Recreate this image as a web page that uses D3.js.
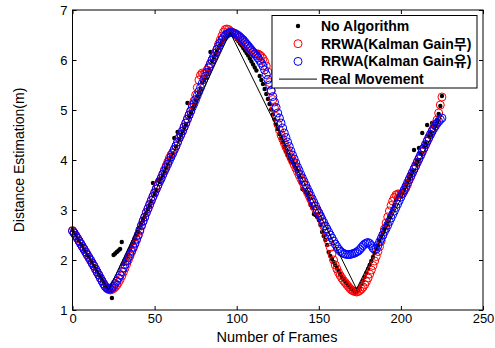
<!DOCTYPE html>
<html>
<head>
<meta charset="utf-8">
<script src="https://cdn.jsdelivr.net/npm/d3@7"></script>
<style>
  body { margin: 0; background: #fff; }
  svg text { font-family: "Liberation Sans", Arial, "Noto Sans CJK KR", sans-serif; fill: #000; }
</style>
</head>
<body>
<svg id="chart"></svg>
<script>
// ########## Data ##########

// one value per frame, frame 0..225
noAlgorithm = [
  2.60, 2.54, 2.50, 2.43, 2.39, 2.32, 2.28, 2.21, 2.17, 2.10,
  2.06, 1.99, 1.95, 1.88, 1.83, 1.77, 1.71, 1.66, 1.60, 1.54,
  1.49, 1.44, 1.40, 1.38, 1.24, 2.10, 2.13, 2.16, 2.19, 2.22,
  2.36, 1.92, 1.98, 2.05, 2.12, 2.20, 2.27, 2.34, 2.41, 2.49,
  2.56, 2.64, 2.71, 2.79, 2.86, 2.94, 3.02, 3.09, 3.17, 3.54,
  3.32, 3.40, 3.60, 3.56, 3.63, 3.70, 3.77, 3.84, 3.91, 3.99,
  4.06, 4.13, 4.44, 4.27, 4.56, 4.42, 4.50, 4.57, 4.65, 4.72,
  5.14, 4.88, 4.96, 5.04, 5.11, 5.19, 5.27, 5.35, 5.42, 5.55,
  5.60, 5.66, 5.73, 5.80, 6.16, 5.98, 6.05, 6.12, 6.18, 6.25,
  6.31, 6.37, 6.42, 6.47, 6.50, 6.53, 6.55, 6.53, 6.50, 6.46,
  6.42, 6.38, 6.33, 6.29, 6.24, 6.19, 6.14, 6.09, 6.03, 5.97,
  5.91, 5.85, 5.79, 6.16, 5.68, 5.60, 5.52, 5.42, 5.32, 5.22,
  5.12, 5.01, 4.91, 4.81, 4.71, 4.62, 4.52, 4.43, 4.35, 4.26,
  4.18, 4.10, 4.03, 3.97, 3.96, 3.90, 3.84, 3.78, 3.68, 3.55,
  3.42, 3.40, 3.36, 3.30, 3.22, 3.10, 3.04, 2.92, 2.90, 2.86,
  2.80, 2.70, 2.56, 2.48, 2.40, 2.30, 2.16, 2.08, 2.02, 1.96,
  1.90, 1.84, 1.78, 1.72, 1.66, 1.62, 1.57, 1.53, 1.49, 1.45,
  1.42, 1.39, 1.34, 1.37, 1.40, 1.46, 1.52, 1.59, 1.66, 1.74,
  1.82, 1.90, 1.98, 2.06, 2.14, 2.22, 2.30, 2.38, 2.46, 2.54,
  2.62, 2.70, 2.78, 2.86, 2.94, 3.02, 3.10, 3.20, 3.26, 3.30,
  3.34, 3.38, 3.44, 3.50, 3.57, 3.64, 3.71, 3.78, 4.20, 3.92,
  3.99, 4.24, 4.13, 4.54, 4.27, 4.34, 4.70, 4.48, 4.55, 4.74,
  4.66, 4.72, 4.80, 4.92, 5.08, 5.28
];

rrwaNoGain = [
  2.59, 2.54, 2.48, 2.43, 2.38, 2.32, 2.27, 2.21, 2.16, 2.10,
  2.05, 1.99, 1.93, 1.88, 1.82, 1.76, 1.70, 1.64, 1.58, 1.52,
  1.47, 1.43, 1.41, 1.40, 1.41, 1.43, 1.46, 1.50, 1.55, 1.61,
  1.68, 1.76, 1.84, 1.92, 2.00, 2.08, 2.16, 2.24, 2.32, 2.40,
  2.49, 2.58, 2.68, 2.77, 2.86, 2.95, 3.03, 3.11, 3.19, 3.27,
  3.35, 3.42, 3.50, 3.57, 3.64, 3.72, 3.80, 3.88, 3.96, 4.04,
  4.10, 4.15, 4.21, 4.28, 4.36, 4.44, 4.51, 4.58, 4.66, 4.74,
  4.82, 4.90, 4.98, 5.10, 5.18, 5.30, 5.45, 5.60, 5.70, 5.74,
  5.72, 5.74, 5.80, 5.86, 5.93, 6.00, 6.07, 6.14, 6.22, 6.32,
  6.40, 6.48, 6.56, 6.61, 6.62, 6.61, 6.58, 6.56, 6.54, 6.52,
  6.50, 6.47, 6.44, 6.41, 6.38, 6.34, 6.30, 6.26, 6.22, 6.18,
  6.15, 6.13, 6.12, 6.12, 6.10, 6.07, 6.03, 5.97, 5.88, 5.76,
  5.55, 5.38, 5.21, 5.04, 4.87, 4.72, 4.60, 4.50, 4.42, 4.34,
  4.26, 4.19, 4.12, 4.05, 3.98, 3.91, 3.84, 3.77, 3.70, 3.63,
  3.57, 3.50, 3.43, 3.36, 3.29, 3.22, 3.15, 3.08, 3.02, 2.98,
  2.94, 2.86, 2.77, 2.68, 2.58, 2.47, 2.36, 2.25, 2.12, 2.00,
  1.90, 1.82, 1.75, 1.69, 1.64, 1.59, 1.55, 1.51, 1.47, 1.43,
  1.40, 1.38, 1.37, 1.36, 1.37, 1.39, 1.42, 1.46, 1.51, 1.57,
  1.64, 1.72, 1.80, 1.89, 1.98, 2.07, 2.17, 2.27, 2.38, 2.50,
  2.62, 2.74, 2.86, 2.98, 3.09, 3.18, 3.25, 3.30, 3.32, 3.32,
  3.31, 3.33, 3.38, 3.44, 3.51, 3.60, 3.67, 3.74, 3.81, 3.88,
  3.95, 4.02, 4.09, 4.16, 4.23, 4.30, 4.37, 4.44, 4.51, 4.58,
  4.65, 4.72, 4.80, 4.94, 5.10, 5.26
];

rrwaGain = [
  2.58, 2.54, 2.49, 2.44, 2.38, 2.33, 2.27, 2.22, 2.16, 2.11,
  2.05, 2.00, 1.94, 1.88, 1.82, 1.76, 1.70, 1.64, 1.58, 1.52,
  1.47, 1.44, 1.42, 1.42, 1.44, 1.48, 1.53, 1.58, 1.64, 1.70,
  1.77, 1.84, 1.91, 1.98, 2.05, 2.12, 2.19, 2.26, 2.34, 2.42,
  2.50, 2.60, 2.69, 2.78, 2.86, 2.95, 3.03, 3.11, 3.19, 3.27,
  3.34, 3.42, 3.49, 3.57, 3.63, 3.71, 3.78, 3.85, 3.92, 3.99,
  4.06, 4.13, 4.21, 4.28, 4.36, 4.44, 4.51, 4.58, 4.66, 4.74,
  4.82, 4.90, 4.98, 5.06, 5.13, 5.21, 5.29, 5.37, 5.45, 5.53,
  5.61, 5.68, 5.76, 5.84, 5.92, 6.00, 6.07, 6.14, 6.21, 6.28,
  6.34, 6.40, 6.45, 6.49, 6.52, 6.54, 6.55, 6.55, 6.54, 6.53,
  6.51, 6.49, 6.46, 6.43, 6.40, 6.36, 6.32, 6.28, 6.24, 6.20,
  6.16, 6.12, 6.08, 6.04, 5.99, 5.94, 5.88, 5.80, 5.71, 5.61,
  5.50, 5.39, 5.27, 5.16, 5.05, 4.94, 4.84, 4.74, 4.64, 4.54,
  4.45, 4.36, 4.27, 4.18, 4.10, 4.02, 3.94, 3.86, 3.79, 3.71,
  3.64, 3.57, 3.50, 3.43, 3.36, 3.29, 3.22, 3.15, 3.08, 3.01,
  2.94, 2.88, 2.81, 2.75, 2.68, 2.62, 2.56, 2.50, 2.44, 2.38,
  2.32, 2.27, 2.22, 2.18, 2.15, 2.13, 2.12, 2.11, 2.11, 2.11,
  2.12, 2.13, 2.14, 2.16, 2.18, 2.21, 2.25, 2.29, 2.32, 2.34,
  2.35, 2.33, 2.29, 2.24, 2.21, 2.22, 2.29, 2.36, 2.43, 2.50,
  2.57, 2.63, 2.70, 2.77, 2.84, 2.91, 2.98, 3.05, 3.12, 3.19,
  3.26, 3.33, 3.40, 3.47, 3.54, 3.61, 3.68, 3.75, 3.82, 3.89,
  3.96, 4.03, 4.10, 4.17, 4.24, 4.31, 4.38, 4.45, 4.51, 4.57,
  4.63, 4.68, 4.73, 4.77, 4.81, 4.84
];

// real movement: turning points only
realFrames = [0, 22, 96, 173, 225];
realValues = [2.6, 1.4, 6.55, 1.42, 4.9];

xTicks = [0, 50, 100, 150, 200, 250];
yTicks = [1, 2, 3, 4, 5, 6, 7];

legendLabels = ["No Algorithm", "RRWA(Kalman Gain\uBB34)", "RRWA(Kalman Gain\uC720)", "Real Movement"];

w = 495;
h = 348;

// ########## SVG ##########
svg = d3.select("#chart")
    .attr("width", w)
    .attr("height", h);

x = d3.scaleLinear().domain([0, 250]).range([72.5, 483]);
y = d3.scaleLinear().domain([1, 7]).range([310, 10]);

// ########## Axes ##########
function styleAxis(g) {
    g.select(".domain").remove();
    g.selectAll(".tick line").attr("stroke", "#000");
    g.selectAll("text").style("font-size", "13px");
}

svg.append("g")
    .attr("transform", "translate(0,310)")
    .call(d3.axisBottom(x).tickValues(xTicks).tickFormat(d3.format("d"))
        .tickSizeInner(-4).tickSizeOuter(0).tickPadding(4))
    .call(styleAxis);

svg.append("g")
    .attr("transform", "translate(0,10)")
    .call(d3.axisTop(x).tickValues(xTicks).tickSizeInner(-4).tickSizeOuter(0).tickFormat(""))
    .call(styleAxis);

svg.append("g")
    .attr("transform", "translate(72.5,0)")
    .call(d3.axisLeft(y).tickValues(yTicks).tickFormat(d3.format("d"))
        .tickSizeInner(-4).tickSizeOuter(0).tickPadding(5))
    .call(styleAxis);

svg.append("g")
    .attr("transform", "translate(483,0)")
    .call(d3.axisRight(y).tickValues(yTicks).tickSizeInner(-4).tickSizeOuter(0).tickFormat(""))
    .call(styleAxis);

// ########## Marks ##########
svg.append("g")
    .selectAll("circle")
    .data(noAlgorithm)
    .enter().append("circle")
    .attr("cx", function (d, i) { return x(i); })
    .attr("cy", function (d) { return y(d); })
    .attr("r", 2.2)
    .attr("fill", "#000");

svg.append("g")
    .selectAll("circle")
    .data(rrwaNoGain)
    .enter().append("circle")
    .attr("cx", function (d, i) { return x(i); })
    .attr("cy", function (d) { return y(d); })
    .attr("r", 4)
    .attr("fill", "none")
    .attr("stroke", "#ff0000")
    .attr("stroke-width", 1);

svg.append("g")
    .selectAll("circle")
    .data(rrwaGain)
    .enter().append("circle")
    .attr("cx", function (d, i) { return x(i); })
    .attr("cy", function (d) { return y(d); })
    .attr("r", 4)
    .attr("fill", "none")
    .attr("stroke", "#0000ff")
    .attr("stroke-width", 1);

realLine = d3.line()
    .x(function (d) { return x(d[0]); })
    .y(function (d) { return y(d[1]); });

svg.append("path")
    .datum(d3.zip(realFrames, realValues))
    .attr("d", realLine)
    .attr("fill", "none")
    .attr("stroke", "#000")
    .attr("stroke-width", 1);

// ########## Box ##########
svg.append("rect")
    .attr("x", 72.5)
    .attr("y", 10)
    .attr("width", 483 - 72.5)
    .attr("height", 300)
    .attr("fill", "none")
    .attr("stroke", "#000")
    .attr("stroke-width", 1);

// ########## Titles ##########
svg.append("text")
    .attr("x", 277)
    .attr("y", 342)
    .attr("text-anchor", "middle")
    .style("font-size", "14.5px")
    .text("Number of Frames");

svg.append("text")
    .attr("transform", "translate(24,160) rotate(-90)")
    .attr("text-anchor", "middle")
    .style("font-size", "14px")
    .text("Distance Estimation(m)");

// ########## Legend ##########
legend = svg.append("g");

legend.append("rect")
    .attr("x", 272)
    .attr("y", 15.5)
    .attr("width", 205)
    .attr("height", 72.5)
    .attr("fill", "#fff")
    .attr("stroke", "#000")
    .attr("stroke-width", 1);

rowY = function (i) { return 26 + i * 17.7; };

legend.append("circle").attr("cx", 298).attr("cy", rowY(0)).attr("r", 2.2).attr("fill", "#000");
legend.append("circle").attr("cx", 298).attr("cy", rowY(1)).attr("r", 4)
    .attr("fill", "none").attr("stroke", "#ff0000");
legend.append("circle").attr("cx", 298).attr("cy", rowY(2)).attr("r", 4)
    .attr("fill", "none").attr("stroke", "#0000ff");
legend.append("line")
    .attr("x1", 279).attr("x2", 317)
    .attr("y1", rowY(3)).attr("y2", rowY(3))
    .attr("stroke", "#000");

legend.selectAll("text.lab")
    .data(legendLabels)
    .enter().append("text")
    .attr("class", "lab")
    .attr("x", 321)
    .attr("y", function (d, i) { return rowY(i); })
    .attr("dy", "0.36em")
    .style("font-size", "14px")
    .style("font-weight", "bold")
    .text(function (d) { return d; });
</script>
</body>
</html>
